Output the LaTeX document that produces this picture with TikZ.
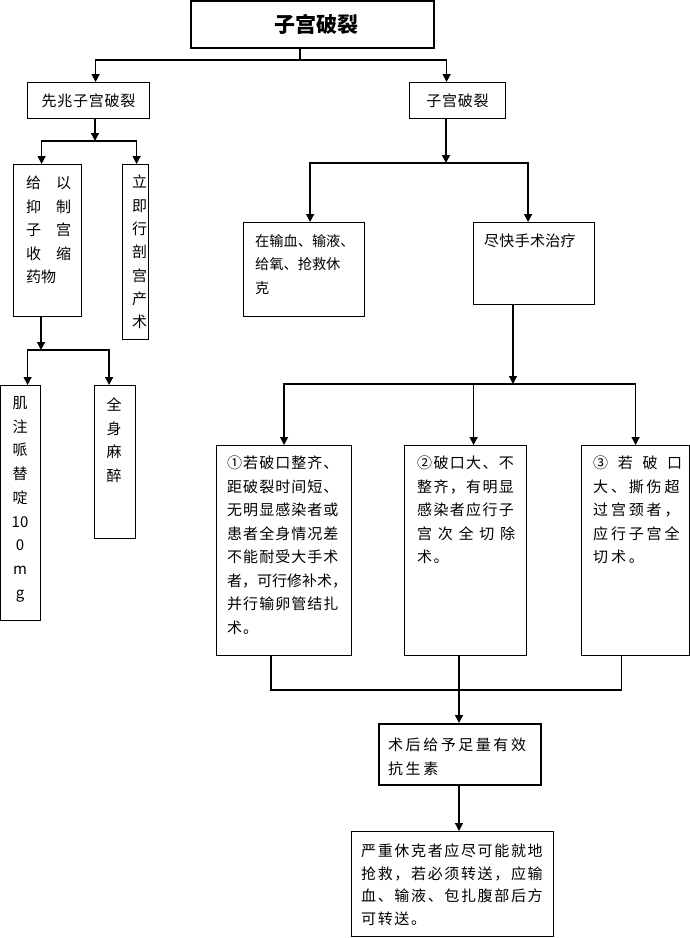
\documentclass[tikz,border=0pt]{standalone}
\usepackage{fontspec}
\setmainfont{Noto Sans CJK SC}
\usetikzlibrary{arrows.meta}

\newcommand{\bodyfont}{\fontsize{15}{23.5}\selectfont}
\newcommand{\lsp}[1]{\addfontfeature{LetterSpace=#1}}

\tikzset{
	box/.style = {draw, line width=1.2pt, anchor=north west, inner sep=0pt},
	heavybox/.style = {box, line width=2pt},
	txt/.style = {anchor=north west, inner sep=0pt, align=left, font=\bodyfont},
	coltxt/.style = {anchor=north, inner sep=0pt, align=center, font=\bodyfont},
	link/.style = {line width=1.3pt},
	arr/.style = {link, -{Triangle[length=8pt, width=8pt]}}
}

\begin{document}
\begin{tikzpicture}[x=1pt, y=-1pt]
	\useasboundingbox (0,0) rectangle (690,938);

	% boxes
	\node[heavybox, minimum width=243pt, minimum height=47pt, font=\fontsize{21}{25}\selectfont\bfseries] (title) at (190,0) {\hspace*{8pt}子宫破裂};
	\node[box, minimum width=122pt, minimum height=36pt, font=\bodyfont\lsp{5}] (pre) at (27,82) {先兆子宫破裂};
	\node[box, minimum width=96pt, minimum height=36pt, font=\bodyfont\lsp{5}] (rup) at (409,82) {子宫破裂};
	\node[box, minimum width=68pt, minimum height=152pt] (drug) at (13,164) {};
	\node[box, minimum width=26pt, minimum height=175pt] (csec) at (122,164) {};
	\node[box, minimum width=40pt, minimum height=235pt] (peth) at (0,385) {};
	\node[box, minimum width=41pt, minimum height=153pt] (anes) at (94,385) {};
	\node[box, minimum width=121pt, minimum height=94pt] (shock) at (243,222) {};
	\node[box, minimum width=121pt, minimum height=82pt] (surg) at (473,222) {};
	\node[box, minimum width=135pt, minimum height=210pt] (opA) at (216,445) {};
	\node[box, minimum width=122pt, minimum height=210pt] (opB) at (404,445) {};
	\node[box, minimum width=108pt, minimum height=210pt] (opC) at (581,445) {};
	\node[heavybox, minimum width=162pt, minimum height=61pt] (anti) at (378,723) {};
	\node[box, minimum width=202pt, minimum height=105pt] (trans) at (351,831) {};

	% texts
	\node[txt, text width=45pt] (drugT) at (26,176) {给\hfill 以\\抑\hfill 制\\子\hfill 宫\\收\hfill 缩\\药物};
	\node[coltxt, font=\fontsize{15}{23.3}\selectfont] (csecT) at (139.5,175) {立\\即\\行\\剖\\宫\\产\\术};
	\node[coltxt, font=\fontsize{15}{23.75}\selectfont] (pethT) at (20,396) {肌\\注\\哌\\替\\啶\\10\\0\\m\\g};
	\node[coltxt] (anesT) at (114,398) {全\\身\\麻\\醉};
	\node[txt, font=\fontsize{14.2}{23.5}\selectfont] (shockT) at (255,234) {在输血、输液、\\给氧、抢救休\\克};
	\node[txt, font=\bodyfont\lsp{2}] (surgT) at (484,234) {尽快手术治疗};
	\node[txt, font=\bodyfont\lsp{7}] (opAT) at (227,456) {①若破口整齐、\\距破裂时间短、\\无明显感染者或\\患者全身情况差\\不能耐受大手术\\{\lsp{0}者，可行修补术，}\\并行输卵管结扎\\术。};
	\node[txt, font=\bodyfont\lsp{9}] (opBT) at (417,456) {②破口大、不\\整齐，有明显\\感染者应行子\\\makebox[98pt][s]{宫\hfill 次\hfill 全\hfill 切\hfill 除}\\术。};
	\node[txt, font=\bodyfont\lsp{19}] (opCT) at (593,456) {\makebox[89pt][s]{③\hfill 若\hfill 破\hfill 口}\\大、撕伤超\\过宫颈者，\\应行子宫全\\切术。};
	\node[txt, font=\bodyfont\lsp{17}] (antiT) at (388,738) {术后给予足量有效\\抗生素};
	\node[txt, font=\fontsize{15}{22.4}\selectfont\lsp{11}] (transT) at (361,844) {严重休克者应尽可能就地\\抢救，若必须转送，应输\\血、输液、包扎腹部后方\\可转送。};

	% connectors
	\coordinate (t0) at (300,60);
	\coordinate (p0) at (95,141);
	\coordinate (d0) at (41,350);
	\coordinate (r0) at (446,163);
	\coordinate (s0) at (513,384);
	\coordinate (m0) at (459,690);

	\draw[link] (title.south -| t0) -- (t0);
	\draw[arr] (t0) -| ([xshift=7pt]pre.north);
	\draw[arr] (t0) -| ([xshift=-11pt]rup.north);
	\draw[arr] (pre.south -| p0) -- (p0);
	\draw[arr] (p0) -| ([xshift=-6pt]drug.north);
	\draw[arr] (p0) -| ([xshift=1pt]csec.north);
	\draw[arr] (drug.south -| d0) -- (d0);
	\draw[arr] (d0) -| ([xshift=7pt]peth.north);
	\draw[arr] (d0) -| ([xshift=-6pt]anes.north);
	\draw[arr] (rup.south -| r0) -- (r0);
	\draw[arr] (r0) -| ([xshift=6pt]shock.north);
	\draw[arr] (r0) -| ([xshift=-6pt]surg.north);
	\draw[arr] (surg.south -| s0) -- (s0);
	\draw[arr] (s0) -| (opA.north);
	\draw[arr] (s0) -| (opC.north);
	\draw[arr] ([xshift=8pt]opB.north |- s0) -- ([xshift=8pt]opB.north);
	\draw[link] ([xshift=-13pt]opA.south) |- (m0);
	\draw[link] ([xshift=-14pt]opC.south) |- (m0);
	\draw[arr] (opB.south -| m0) -- (anti.north -| m0);
	\draw[arr] (anti.south -| m0) -- (trans.north -| m0);
\end{tikzpicture}
\end{document}
